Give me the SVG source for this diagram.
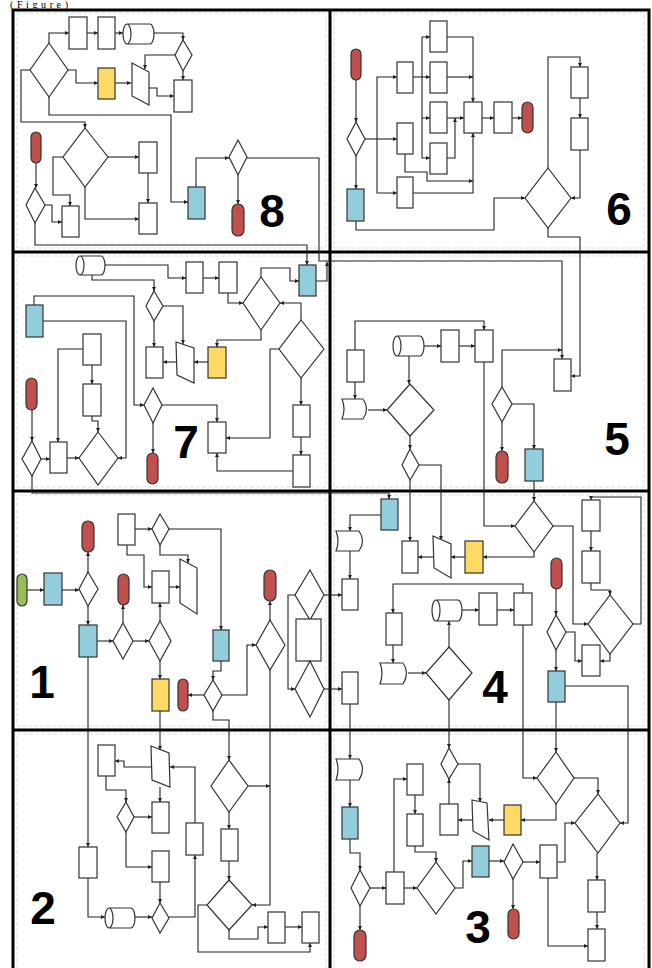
<svg xmlns="http://www.w3.org/2000/svg" width="652" height="968" viewBox="0 0 652 968">
<style>
.n{fill:#fff;stroke:#333;stroke-width:1.2}
.b{fill:#92cddc;stroke:#333;stroke-width:1.2}
.y{fill:#ffd966;stroke:#333;stroke-width:1.2}
.r{fill:#c0504d;stroke:#333;stroke-width:1.2}
.g{fill:#9bbb59;stroke:#333;stroke-width:1.2}
#conn polyline{fill:none;stroke:#222;stroke-width:1.1;marker-end:url(#a)}
.frame{fill:none;stroke:#000;stroke-width:3}
.inner{fill:none;stroke:#d4d4d4;stroke-width:0.8;stroke-dasharray:4 2}
.num{font-family:"Liberation Sans",Arial,sans-serif;font-weight:bold;font-size:46px;fill:#000;text-anchor:middle}
.cap{font-family:"Liberation Serif","Times New Roman",serif;font-size:10px;fill:#000}
</style>
<defs>
<marker id="a" viewBox="0 0 6 6" refX="6" refY="3" markerWidth="4" markerHeight="4" orient="auto" markerUnits="userSpaceOnUse"><path d="M0,0L6,3L0,6Z" fill="#222"/></marker>
</defs>
<rect width="652" height="968" fill="#fff"/>
<text class="cap" x="10" y="8" textLength="58" lengthAdjust="spacing">(Figure)</text>

<g id="grid">
<rect class="inner" x="17" y="13" width="309" height="235"/>
<rect class="inner" x="334" y="13" width="310" height="235"/>
<rect class="inner" x="17" y="256" width="309" height="231"/>
<rect class="inner" x="334" y="256" width="310" height="231"/>
<rect class="inner" x="17" y="495" width="309" height="231"/>
<rect class="inner" x="334" y="495" width="310" height="231"/>
<rect class="inner" x="17" y="734" width="309" height="240"/>
<rect class="inner" x="334" y="734" width="310" height="240"/>
<rect class="frame" x="13" y="10" width="636" height="965"/>
<line class="frame" x1="330" y1="10" x2="330" y2="968"/>
<line class="frame" x1="13" y1="252" x2="649" y2="252"/>
<line class="frame" x1="13" y1="491" x2="649" y2="491"/>
<line class="frame" x1="13" y1="730" x2="649" y2="730"/>
</g>

<g id="conn">
<polyline points="49,43 49,33 69,33"/>
<polyline points="87,33 98,33"/>
<polyline points="115,33 123,33"/>
<polyline points="154,33 183,33 183,40"/>
<polyline points="183,71 183,80"/>
<polyline points="175,55 145,55 145,69"/>
<polyline points="149,88 157,88 157,96 174,96"/>
<polyline points="115,83 131,83"/>
<polyline points="68,70 76,70 76,83 98,83"/>
<polyline points="30,70 21,70 21,122 85,122 85,128"/>
<polyline points="49,97 49,115 171,115 171,202 188,202"/>
<polyline points="108,157 139,157"/>
<polyline points="148,173 148,203"/>
<polyline points="85,187 85,219 139,219"/>
<polyline points="63,157 53,157 53,195 70,195 70,206"/>
<polyline points="36,163 36,188"/>
<polyline points="45,205 52,205 52,222 62,222"/>
<polyline points="35,223 35,245 307,245 307,265"/>
<polyline points="196,187 196,158 229,158"/>
<polyline points="247,158 319,158 319,261 562,261 562,359"/>
<polyline points="238,175 238,204"/>

<polyline points="105,265 168,265 168,278 186,278"/>
<polyline points="203,278 219,278"/>
<polyline points="228,293 228,303 243,303"/>
<polyline points="261,277 261,268 290,268 290,281 299,281"/>
<polyline points="316,281 327,281 327,262"/>
<polyline points="261,330 261,340 217,340 217,347"/>
<polyline points="301,320 301,303 280,303"/>
<polyline points="279,349 270,349 270,438 226,438"/>
<polyline points="301,378 301,405"/>
<polyline points="301,437 301,455"/>
<polyline points="293,471 217,471 217,453"/>
<polyline points="92,275 92,280 154,280 154,291"/>
<polyline points="163,306 183,306 183,344"/>
<polyline points="154,321 154,347"/>
<polyline points="176,362 163,362"/>
<polyline points="208,362 194,362"/>
<polyline points="34,305 34,296 134,296 134,405 144,405"/>
<polyline points="43,321 126,321 126,458 118,458"/>
<polyline points="162,405 217,405 217,422"/>
<polyline points="153,423 153,453"/>
<polyline points="83,349 58,349 58,442"/>
<polyline points="92,365 92,384"/>
<polyline points="92,416 92,421 98,421 98,432"/>
<polyline points="67,458 79,458"/>
<polyline points="41,459 50,459"/>
<polyline points="32,410 32,441"/>
<polyline points="32,476 32,493 389,493 389,499"/>

<polyline points="356,80 356,122"/>
<polyline points="356,156 356,189"/>
<polyline points="365,139 397,139"/>
<polyline points="377,139 377,77 397,77"/>
<polyline points="377,139 377,193 397,193"/>
<polyline points="413,77 430,77"/>
<polyline points="422,77 422,37 430,37"/>
<polyline points="422,77 422,118 430,118"/>
<polyline points="422,118 422,158 430,158"/>
<polyline points="447,37 473,37 473,102"/>
<polyline points="447,77 473,77"/>
<polyline points="447,118 464,118"/>
<polyline points="447,158 455,158 455,118"/>
<polyline points="405,154 405,172 427,172 427,181 473,181"/>
<polyline points="413,193 473,193 473,133"/>
<polyline points="482,118 494,118"/>
<polyline points="512,118 522,118"/>
<polyline points="356,221 356,230 494,230 494,198 525,198"/>
<polyline points="548,168 548,57 580,57 580,67"/>
<polyline points="580,98 580,118"/>
<polyline points="580,150 580,198 571,198"/>
<polyline points="548,228 548,237 580,237 580,376 571,376"/>

<polyline points="355,350 355,321 484,321 484,330"/>
<polyline points="355,382 355,399"/>
<polyline points="368,410 387,410"/>
<polyline points="424,346 441,346"/>
<polyline points="459,346 475,346"/>
<polyline points="409,356 409,384"/>
<polyline points="410,436 410,449"/>
<polyline points="419,465 441,465 441,540"/>
<polyline points="410,480 410,541"/>
<polyline points="484,362 484,526 515,526"/>
<polyline points="502,387 502,350 562,350"/>
<polyline points="512,404 534,404 534,449"/>
<polyline points="502,422 502,451"/>
<polyline points="534,481 534,501"/>

<polyline points="381,515 350,515 350,531"/>
<polyline points="350,551 350,579"/>
<polyline points="324,595 342,595"/>
<polyline points="324,689 342,689"/>
<polyline points="433,557 418,557"/>
<polyline points="465,557 451,557"/>
<polyline points="534,552 534,557 483,557"/>
<polyline points="553,526 573,526 573,624 588,624"/>
<polyline points="591,531 591,551"/>
<polyline points="591,583 591,590 610,590 610,595"/>
<polyline points="633,624 641,624 641,497 591,497 591,500"/>
<polyline points="610,654 610,661 600,661"/>
<polyline points="566,632 575,632 575,661 582,661"/>
<polyline points="556,589 556,615"/>
<polyline points="556,650 556,671"/>
<polyline points="565,686 628,686 628,823 620,823"/>
<polyline points="556,702 556,752"/>
<polyline points="462,610 479,610"/>
<polyline points="497,610 514,610"/>
<polyline points="523,593 523,584 393,584 393,613"/>
<polyline points="523,625 523,778 537,778"/>
<polyline points="393,645 393,663"/>
<polyline points="408,673 426,673"/>
<polyline points="449,647 449,621"/>
<polyline points="449,700 449,748"/>
<polyline points="350,704 350,759"/>

<polyline points="27,590 44,590"/>
<polyline points="62,590 79,590"/>
<polyline points="88,572 88,552"/>
<polyline points="88,606 88,625"/>
<polyline points="97,641 113,641"/>
<polyline points="123,623 123,605"/>
<polyline points="133,641 149,641"/>
<polyline points="160,621 160,603"/>
<polyline points="160,661 160,679"/>
<polyline points="160,711 160,750"/>
<polyline points="135,529 152,529"/>
<polyline points="169,529 221,529 221,630"/>
<polyline points="160,545 160,555 188,555 188,563"/>
<polyline points="127,545 127,555 144,555 144,587 152,587"/>
<polyline points="169,587 180,587"/>
<polyline points="221,661 221,671 213,671 213,680"/>
<polyline points="204,695 188,695"/>
<polyline points="222,695 247,695 247,645 256,645"/>
<polyline points="213,711 213,720 229,720 229,760"/>
<polyline points="270,620 270,601"/>
<polyline points="270,670 270,905 252,905"/>
<polyline points="295,595 288,595 288,689 295,689"/>
<polyline points="88,657 88,847"/>

<polyline points="88,878 88,917 105,917"/>
<polyline points="135,917 152,917"/>
<polyline points="169,917 195,917 195,855"/>
<polyline points="195,823 195,767 170,767"/>
<polyline points="151,767 124,767 124,761 115,761"/>
<polyline points="106,776 106,790 126,790 126,802"/>
<polyline points="134,817 152,817"/>
<polyline points="160,787 160,802"/>
<polyline points="126,832 126,867 152,867"/>
<polyline points="160,882 160,903"/>
<polyline points="229,812 229,829"/>
<polyline points="229,861 229,880"/>
<polyline points="207,905 198,905 198,952 310,952 310,943"/>
<polyline points="229,930 229,939 258,939 258,927 268,927"/>
<polyline points="285,927 302,927"/>
<polyline points="248,786 270,786"/>

<polyline points="350,780 350,807"/>
<polyline points="350,839 350,853 360,853 360,870"/>
<polyline points="360,906 360,930"/>
<polyline points="370,888 386,888"/>
<polyline points="404,888 417,888"/>
<polyline points="394,872 394,779 407,779"/>
<polyline points="415,795 415,814"/>
<polyline points="415,846 415,852 436,852 436,862"/>
<polyline points="455,888 463,888 463,861 472,861"/>
<polyline points="489,861 504,861"/>
<polyline points="513,879 513,909"/>
<polyline points="523,862 540,862"/>
<polyline points="557,862 565,862 565,823 575,823"/>
<polyline points="548,878 548,946 588,946"/>
<polyline points="597,853 597,880"/>
<polyline points="597,912 597,929"/>
<polyline points="574,778 598,778 598,794"/>
<polyline points="556,804 556,820 521,820"/>
<polyline points="504,820 489,820"/>
<polyline points="472,820 458,820"/>
<polyline points="449,804 449,779"/>
<polyline points="458,764 480,764 480,802"/>
</g>

<!-- Panel 8 -->
<g id="p8-r1"><rect class="n" x="69" y="17" width="18" height="32"/></g>
<g id="p8-r2"><rect class="n" x="98" y="17" width="17" height="32"/></g>
<g id="p8-db"><path class="n" d="M127,24H150A4,10 0 0 1 150,44H127A4,10 0 0 1 127,24ZM127,24A4,10 0 0 1 127,44"/></g>
<g id="p8-d1"><polygon class="n" points="183,40 192,55 183,71 175,55"/></g>
<g id="p8-d2"><polygon class="n" points="49,43 68,70 49,97 30,70"/></g>
<g id="p8-y"><rect class="y" x="98" y="68" width="17" height="31"/></g>
<g id="p8-t"><polygon class="n" points="132,63 149,72 149,105 132,96"/></g>
<g id="p8-r3"><rect class="n" x="174" y="80" width="18" height="32"/></g>
<g id="p8-d3"><polygon class="n" points="85,128 108,157 85,187 63,157"/></g>
<g id="p8-r4"><rect class="n" x="139" y="142" width="18" height="31"/></g>
<g id="p8-r5"><rect class="n" x="139" y="203" width="18" height="31"/></g>
<g id="p8-e1"><rect class="r" x="31" y="132" width="10" height="31" rx="5"/></g>
<g id="p8-d4"><polygon class="n" points="35,188 45,205 35,223 26,205"/></g>
<g id="p8-r6"><rect class="n" x="62" y="206" width="17" height="31"/></g>
<g id="p8-b"><rect class="b" x="188" y="187" width="17" height="32"/></g>
<g id="p8-d5"><polygon class="n" points="238,140 247,157 238,175 229,157"/></g>
<g id="p8-e2"><rect class="r" x="232" y="204" width="12" height="32" rx="6"/></g>
<text class="num" x="272" y="227">8</text>

<!-- Panel 7 -->
<g id="p7-db"><path class="n" d="M80,256H101A4,9.5 0 0 1 101,275H80A4,9.5 0 0 1 80,256ZM80,256A4,9.5 0 0 1 80,275"/></g>
<g id="p7-r1"><rect class="n" x="186" y="262" width="17" height="31"/></g>
<g id="p7-r2"><rect class="n" x="219" y="262" width="18" height="31"/></g>
<g id="p7-b1"><rect class="b" x="299" y="265" width="17" height="31"/></g>
<g id="p7-d1"><polygon class="n" points="261,277 280,303 261,330 243,303"/></g>
<g id="p7-d2"><polygon class="n" points="301,320 324,349 301,378 279,349"/></g>
<g id="p7-d3"><polygon class="n" points="154,291 163,306 154,321 146,306"/></g>
<g id="p7-b2"><rect class="b" x="26" y="305" width="17" height="32"/></g>
<g id="p7-r3"><rect class="n" x="146" y="347" width="17" height="31"/></g>
<g id="p7-t"><polygon class="n" points="176,342 194,348 194,383 177,375"/></g>
<g id="p7-y"><rect class="y" x="208" y="347" width="18" height="31"/></g>
<g id="p7-r4"><rect class="n" x="83" y="334" width="18" height="31"/></g>
<g id="p7-r5"><rect class="n" x="83" y="384" width="18" height="32"/></g>
<g id="p7-e1"><rect class="r" x="26" y="378" width="11" height="32" rx="5.5"/></g>
<g id="p7-d4"><polygon class="n" points="32,441 41,459 32,476 22,459"/></g>
<g id="p7-r6"><rect class="n" x="50" y="442" width="17" height="31"/></g>
<g id="p7-d5"><polygon class="n" points="98,432 118,458 98,485 79,458"/></g>
<g id="p7-d6"><polygon class="n" points="153,388 162,405 153,423 144,405"/></g>
<g id="p7-e2"><rect class="r" x="147" y="453" width="11" height="31" rx="5.5"/></g>
<g id="p7-r7"><rect class="n" x="208" y="422" width="18" height="31"/></g>
<g id="p7-r8"><rect class="n" x="293" y="405" width="17" height="32"/></g>
<g id="p7-r9"><rect class="n" x="293" y="455" width="17" height="32"/></g>
<text class="num" x="186" y="458">7</text>

<!-- Panel 6 -->
<g id="p6-e1"><rect class="r" x="351" y="49" width="10" height="31" rx="5"/></g>
<g id="p6-d1"><polygon class="n" points="356,122 365,139 356,156 347,139"/></g>
<g id="p6-b"><rect class="b" x="347" y="189" width="17" height="32"/></g>
<g id="p6-r1"><rect class="n" x="397" y="62" width="16" height="31"/></g>
<g id="p6-r2"><rect class="n" x="397" y="123" width="16" height="31"/></g>
<g id="p6-r3"><rect class="n" x="397" y="177" width="16" height="31"/></g>
<g id="p6-r4"><rect class="n" x="430" y="21" width="17" height="31"/></g>
<g id="p6-r5"><rect class="n" x="430" y="62" width="17" height="31"/></g>
<g id="p6-r6"><rect class="n" x="430" y="102" width="17" height="31"/></g>
<g id="p6-r7"><rect class="n" x="430" y="143" width="17" height="31"/></g>
<g id="p6-r8"><rect class="n" x="464" y="102" width="18" height="31"/></g>
<g id="p6-r9"><rect class="n" x="494" y="102" width="18" height="31"/></g>
<g id="p6-e2"><rect class="r" x="522" y="102" width="11" height="31" rx="5.5"/></g>
<g id="p6-r10"><rect class="n" x="571" y="67" width="17" height="31"/></g>
<g id="p6-r11"><rect class="n" x="571" y="118" width="17" height="32"/></g>
<g id="p6-d2"><polygon class="n" points="548,168 571,198 548,228 525,198"/></g>
<text class="num" x="619" y="225">6</text>

<!-- Panel 5 -->
<g id="p5-r1"><rect class="n" x="347" y="350" width="17" height="32"/></g>
<g id="p5-doc"><path class="n" d="M342,399H363Q370,409 363,419H342Q346,409 342,399Z"/></g>
<g id="p5-db"><path class="n" d="M397,336H420A4,10 0 0 1 420,356H397A4,10 0 0 1 397,336ZM397,336A4,10 0 0 1 397,356"/></g>
<g id="p5-r2"><rect class="n" x="441" y="330" width="18" height="32"/></g>
<g id="p5-r3"><rect class="n" x="475" y="330" width="18" height="32"/></g>
<g id="p5-r4"><rect class="n" x="554" y="359" width="17" height="32"/></g>
<g id="p5-d1"><polygon class="n" points="410,384 434,410 410,436 387,410"/></g>
<g id="p5-d2"><polygon class="n" points="410,449 419,465 410,480 402,465"/></g>
<g id="p5-d3"><polygon class="n" points="502,387 512,404 502,422 492,404"/></g>
<g id="p5-e"><rect class="r" x="496" y="451" width="12" height="32" rx="6"/></g>
<g id="p5-b"><rect class="b" x="525" y="449" width="18" height="32"/></g>
<text class="num" x="617" y="455">5</text>

<!-- Panel 1 -->
<g id="p1-start"><rect class="g" x="17" y="574" width="10" height="32" rx="5"/></g>
<g id="p1-b1"><rect class="b" x="44" y="573" width="18" height="32"/></g>
<g id="p1-d1"><polygon class="n" points="88,572 98,589 88,606 79,589"/></g>
<g id="p1-e1"><rect class="r" x="82" y="521" width="12" height="31" rx="6"/></g>
<g id="p1-b2"><rect class="b" x="79" y="625" width="18" height="32"/></g>
<g id="p1-d2"><polygon class="n" points="123,623 133,641 123,659 113,641"/></g>
<g id="p1-e2"><rect class="r" x="118" y="574" width="11" height="31" rx="5.5"/></g>
<g id="p1-d3"><polygon class="n" points="160,621 171,641 160,661 149,641"/></g>
<g id="p1-r1"><rect class="n" x="118" y="514" width="17" height="31"/></g>
<g id="p1-d4"><polygon class="n" points="160,514 169,529 160,545 152,529"/></g>
<g id="p1-r2"><rect class="n" x="152" y="571" width="17" height="32"/></g>
<g id="p1-t"><polygon class="n" points="180,559 197,568 197,614 180,603"/></g>
<g id="p1-y"><rect class="y" x="152" y="679" width="17" height="32"/></g>
<g id="p1-e3"><rect class="r" x="178" y="679" width="10" height="32" rx="5"/></g>
<g id="p1-d5"><polygon class="n" points="213,680 222,695 213,711 204,695"/></g>
<g id="p1-b3"><rect class="b" x="213" y="630" width="16" height="31"/></g>
<g id="p1-e4"><rect class="r" x="264" y="570" width="12" height="31" rx="6"/></g>
<g id="p1-d6"><polygon class="n" points="270,620 285,645 270,670 256,645"/></g>
<g id="p1-d7"><polygon class="n" points="310,570 324,595 310,620 295,595"/></g>
<g id="p1-r3"><rect class="n" x="296" y="619" width="25" height="42"/></g>
<g id="p1-d8"><polygon class="n" points="310,661 324,689 310,717 295,689"/></g>
<text class="num" x="42" y="698">1</text>

<!-- Panel 4 -->
<g id="p4-b1"><rect class="b" x="381" y="499" width="17" height="31"/></g>
<g id="p4-doc1"><path class="n" d="M336,531H359Q366,541 359,551H336Q340,541 336,531Z"/></g>
<g id="p4-r1"><rect class="n" x="342" y="579" width="16" height="31"/></g>
<g id="p4-r2"><rect class="n" x="402" y="541" width="16" height="32"/></g>
<g id="p4-t"><polygon class="n" points="433,536 451,544 451,578 434,568"/></g>
<g id="p4-y"><rect class="y" x="465" y="541" width="18" height="32"/></g>
<g id="p4-d1"><polygon class="n" points="534,501 553,526 534,552 515,526"/></g>
<g id="p4-r3"><rect class="n" x="582" y="500" width="18" height="31"/></g>
<g id="p4-r4"><rect class="n" x="582" y="551" width="18" height="32"/></g>
<g id="p4-e"><rect class="r" x="551" y="558" width="11" height="31" rx="5.5"/></g>
<g id="p4-d2"><polygon class="n" points="610,595 633,624 610,654 588,624"/></g>
<g id="p4-d3"><polygon class="n" points="556,615 566,632 556,650 547,632"/></g>
<g id="p4-r5"><rect class="n" x="582" y="645" width="18" height="31"/></g>
<g id="p4-b2"><rect class="b" x="548" y="671" width="17" height="31"/></g>
<g id="p4-db"><path class="n" d="M436,600H458A4,10.5 0 0 1 458,621H436A4,10.5 0 0 1 436,600ZM436,600A4,10.5 0 0 1 436,621"/></g>
<g id="p4-r6"><rect class="n" x="479" y="593" width="18" height="32"/></g>
<g id="p4-r7"><rect class="n" x="514" y="593" width="18" height="32"/></g>
<g id="p4-r8"><rect class="n" x="386" y="613" width="16" height="32"/></g>
<g id="p4-doc2"><path class="n" d="M380,663H403Q410,673 403,684H380Q384,673 380,663Z"/></g>
<g id="p4-d4"><polygon class="n" points="449,647 472,673 449,700 426,673"/></g>
<g id="p4-r9"><rect class="n" x="342" y="672" width="16" height="32"/></g>
<text class="num" x="495" y="703">4</text>

<!-- Panel 2 -->
<g id="p2-r1"><rect class="n" x="98" y="745" width="17" height="31"/></g>
<g id="p2-t"><polygon class="n" points="151,746 169,753 170,787 152,780"/></g>
<g id="p2-d1"><polygon class="n" points="126,802 134,817 126,832 117,817"/></g>
<g id="p2-r2"><rect class="n" x="152" y="802" width="17" height="31"/></g>
<g id="p2-r3"><rect class="n" x="152" y="851" width="17" height="31"/></g>
<g id="p2-r4"><rect class="n" x="186" y="823" width="17" height="32"/></g>
<g id="p2-r5"><rect class="n" x="79" y="847" width="18" height="31"/></g>
<g id="p2-db"><path class="n" d="M109,908H131A4,10 0 0 1 131,928H109A4,10 0 0 1 109,908ZM109,908A4,10 0 0 1 109,928"/></g>
<g id="p2-d2"><polygon class="n" points="160,903 169,918 160,933 152,918"/></g>
<g id="p2-d3"><polygon class="n" points="229,760 248,786 229,812 211,786"/></g>
<g id="p2-r6"><rect class="n" x="221" y="829" width="17" height="32"/></g>
<g id="p2-d4"><polygon class="n" points="229,880 252,905 229,930 207,905"/></g>
<g id="p2-r7"><rect class="n" x="268" y="912" width="17" height="31"/></g>
<g id="p2-r8"><rect class="n" x="302" y="912" width="17" height="31"/></g>
<text class="num" x="43" y="924">2</text>

<!-- Panel 3 -->
<g id="p3-doc"><path class="n" d="M336,759H359Q366,769 359,780H336Q340,769 336,759Z"/></g>
<g id="p3-b1"><rect class="b" x="342" y="807" width="16" height="32"/></g>
<g id="p3-d1"><polygon class="n" points="360,870 370,888 360,906 351,888"/></g>
<g id="p3-e1"><rect class="r" x="354" y="930" width="12" height="31" rx="6"/></g>
<g id="p3-r1"><rect class="n" x="386" y="872" width="18" height="32"/></g>
<g id="p3-d2"><polygon class="n" points="436,862 455,888 436,914 417,888"/></g>
<g id="p3-r2"><rect class="n" x="407" y="764" width="16" height="31"/></g>
<g id="p3-r3"><rect class="n" x="407" y="814" width="16" height="32"/></g>
<g id="p3-d3"><polygon class="n" points="449,748 458,764 449,779 441,764"/></g>
<g id="p3-r4"><rect class="n" x="440" y="804" width="18" height="31"/></g>
<g id="p3-t"><polygon class="n" points="472,800 487,803 489,840 473,831"/></g>
<g id="p3-y"><rect class="y" x="504" y="805" width="17" height="30"/></g>
<g id="p3-b2"><rect class="b" x="472" y="846" width="17" height="31"/></g>
<g id="p3-d4"><polygon class="n" points="513,844 523,862 513,879 504,862"/></g>
<g id="p3-e2"><rect class="r" x="508" y="909" width="11" height="30" rx="5.5"/></g>
<g id="p3-r5"><rect class="n" x="540" y="845" width="17" height="33"/></g>
<g id="p3-d5"><polygon class="n" points="556,752 574,778 556,804 537,778"/></g>
<g id="p3-d6"><polygon class="n" points="598,794 620,823 598,853 575,823"/></g>
<g id="p3-r6"><rect class="n" x="588" y="880" width="17" height="32"/></g>
<g id="p3-r7"><rect class="n" x="588" y="929" width="17" height="32"/></g>
<text class="num" x="478" y="943">3</text>
</svg>
